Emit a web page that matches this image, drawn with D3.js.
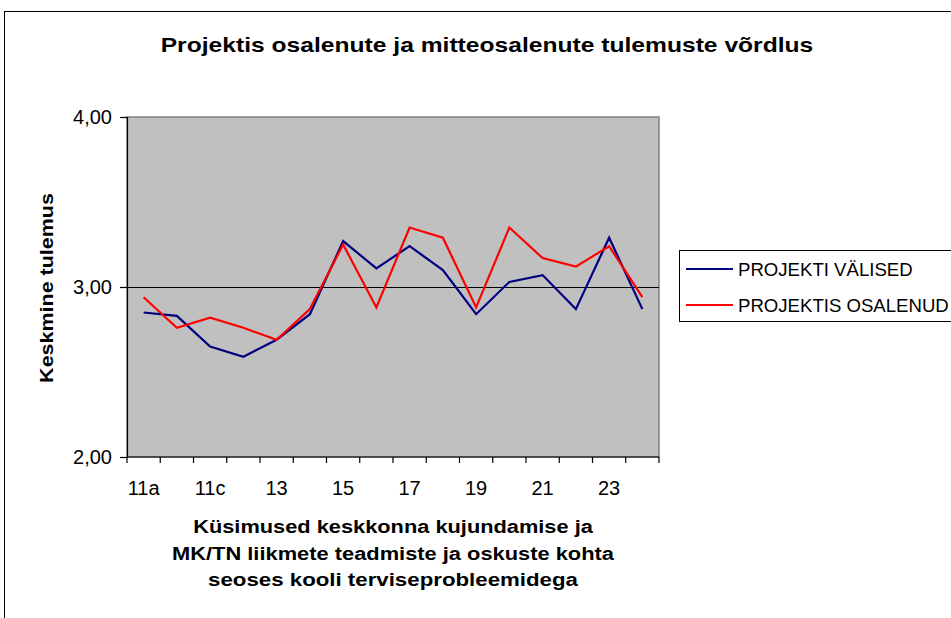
<!DOCTYPE html>
<html>
<head>
<meta charset="utf-8">
<script src="https://cdn.jsdelivr.net/npm/d3@7"></script>
<style>
  html, body { margin: 0; padding: 0; background: #fff; }
  svg { display: block; font-family: "Liberation Sans", Arial, sans-serif; }
</style>
</head>
<body>
<svg id="chart" width="951" height="618"></svg>
<script>
const categories = ["11a","11b","11c","12","13","14","15","16","17","18","19","20","21","22","23","24"];
const tickLabels = ["11a","11c","13","15","17","19","21","23"];
const projektiValised = [2.85, 2.83, 2.65, 2.59, 2.69, 2.84, 3.27, 3.11, 3.24, 3.10, 2.84, 3.03, 3.07, 2.87, 3.29, 2.87];
const projektisOsalenud = [2.94, 2.76, 2.82, 2.76, 2.69, 2.87, 3.25, 2.88, 3.35, 3.29, 2.88, 3.35, 3.17, 3.12, 3.24, 2.94];
const yTicks = [2, 3, 4];
const seriesNames = ["PROJEKTI VÄLISED", "PROJEKTIS OSALENUD"];
const seriesColors = ["#000080", "#ff0000"];
const titleText = "Projektis osalenute ja mitteosalenute tulemuste võrdlus";
const yTitle = "Keskmine tulemus";
const xTitleLines = ["Küsimused keskkonna kujundamise ja", "MK/TN liikmete teadmiste ja oskuste kohta", "seoses kooli terviseprobleemidega"];

const svg = d3.select("#chart");
const plot = {left: 127, top: 117, right: 659, bottom: 457};

// outer frame
svg.append("rect").attr("x", 4.5).attr("y", 11.5).attr("width", 1000).attr("height", 1000)
  .attr("fill", "none").attr("stroke", "#000").attr("stroke-width", 1);

const x = d3.scaleBand().domain(categories).range([plot.left, plot.right]).padding(0);
const y = d3.scaleLinear().domain([2, 4]).range([plot.bottom, plot.top]);

// plot background
svg.append("rect").attr("x", plot.left).attr("y", plot.top)
  .attr("width", plot.right - plot.left).attr("height", plot.bottom - plot.top)
  .attr("fill", "#c0c0c0").attr("stroke", "#808080").attr("stroke-width", 1.5);

// gridline
svg.append("line").attr("x1", plot.left).attr("x2", plot.right)
  .attr("y1", Math.round(y(3)) + 0.5).attr("y2", Math.round(y(3)) + 0.5)
  .attr("stroke", "#000").attr("stroke-width", 1);

// y axis
const yAxis = d3.axisLeft(y).tickValues(yTicks).tickSize(7).tickPadding(8)
  .tickFormat(d => d3.format(".2f")(d).replace(".", ","));
const yg = svg.append("g").attr("transform", `translate(${plot.left},0)`).call(yAxis);
yg.select(".domain").attr("stroke", "#000").attr("stroke-width", 1.2);
yg.selectAll(".tick line").attr("stroke", "#000").attr("stroke-width", 1.2);
yg.selectAll("text").attr("font-size", 20).attr("fill", "#000")
  .attr("font-family", "Liberation Sans, Arial, sans-serif");

// x axis: ticks at boundaries
const xg = svg.append("g").attr("transform", `translate(0,${plot.bottom})`);
xg.append("line").attr("x1", plot.left).attr("x2", plot.right).attr("y1", 0).attr("y2", 0)
  .attr("stroke", "#000").attr("stroke-width", 1.2);
const boundaries = categories.map(c => x(c)).concat([plot.right]);
xg.selectAll("line.tk").data(boundaries).enter().append("line").attr("class", "tk")
  .attr("x1", d => d).attr("x2", d => d).attr("y1", 0).attr("y2", 6)
  .attr("stroke", "#000").attr("stroke-width", 1.2);
xg.selectAll("text.lbl").data(tickLabels).enter().append("text").attr("class", "lbl")
  .attr("x", d => x(d) + x.bandwidth() / 2).attr("y", 38)
  .attr("text-anchor", "middle").attr("font-size", 20).attr("fill", "#000").text(d => d);

// lines
const line = d3.line().x((d, i) => x(categories[i]) + x.bandwidth() / 2).y(d => y(d));
[projektiValised, projektisOsalenud].forEach((s, i) => {
  svg.append("path").datum(s).attr("d", line).attr("fill", "none")
    .attr("stroke", seriesColors[i]).attr("stroke-width", 2.2).attr("stroke-linejoin", "miter");
});

// helper: place text centered at (cx, cy) scaled horizontally to a target width
function fitText(g, text, cx, cy, size, target, rotate) {
  const t = g.append("text").attr("text-anchor", "middle").attr("font-size", size)
    .attr("font-weight", "bold").attr("fill", "#000").text(text);
  const w = t.node().getComputedTextLength();
  const s = target / w;
  t.attr("transform", `translate(${cx},${cy})` + (rotate ? " rotate(-90)" : "") + ` scale(${s},1)`);
  return t;
}

// title
fitText(svg, titleText, 487, 52, 19.5, 653, false);
// y title
fitText(svg, yTitle, 53, 288, 19, 190, true);
// x title
const xLens = [400, 442, 370];
xTitleLines.forEach((t, i) => fitText(svg, t, 393, 533 + i * 26.5, 19, xLens[i], false));

// legend
const lg = svg.append("g");
lg.append("rect").attr("x", 679.5).attr("y", 250.5).attr("width", 400).attr("height", 71)
  .attr("fill", "#fff").attr("stroke", "#000").attr("stroke-width", 1);
seriesNames.forEach((n, i) => {
  const yy = 269 + i * 36;
  lg.append("line").attr("x1", 686).attr("x2", 733).attr("y1", yy).attr("y2", yy)
    .attr("stroke", seriesColors[i]).attr("stroke-width", 2);
  lg.append("text").attr("x", 738).attr("y", yy + 6.5).attr("font-size", 18.6).attr("fill", "#000").text(n);
});
</script>
</body>
</html>
